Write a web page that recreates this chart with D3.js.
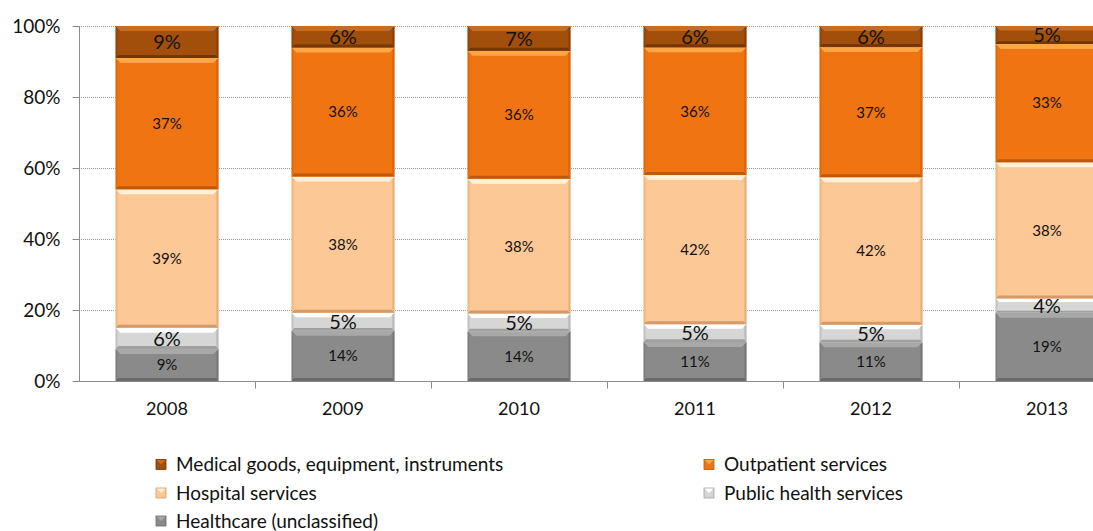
<!DOCTYPE html>
<html><head><meta charset="utf-8">
<script src="https://cdn.jsdelivr.net/npm/d3@7"></script>
<style>body{margin:0;background:#fff}svg{display:block}text{font-family:Lato,"Open Sans",sans-serif}</style>
</head><body><svg id="c" width="1093" height="531"></svg>
<script>
const years = ["2008","2009","2010","2011","2012","2013"];
const seriesNames = ["Healthcare (unclassified)","Public health services","Hospital services","Outpatient services","Medical goods, equipment, instruments"];
const healthcare = [9,14,14,11,11,19];
const publicHealth = [6,5,5,5,5,4];
const hospital = [39,38,38,42,42,38];
const outpatient = [37,36,36,36,37,33];
const medical = [9,6,7,6,6,5];
const yTicks = [0,0.2,0.4,0.6,0.8,1];

const seriesData = [healthcare, publicHealth, hospital, outpatient, medical];
const colors = ["#8a8a8a","#d6d6d6","#fcc896","#f07411","#a24f0b"];
const lights = ["#a8a8a8","#ffffff","#fff0d8","#fca646","#c86c20"];
const darks = ["#6a6a6a","#a0a0a0","#d69a68","#c0580a","#763604"];
const fsizes = [15,20,15,15,20];

const rows = years.map((y,i)=>{const o={year:y};seriesNames.forEach((s,k)=>o[s]=seriesData[k][i]);return o;});
const stack = d3.stack().keys(seriesNames).offset(d3.stackOffsetExpand)(rows);

const svg = d3.select("#c");
const x = d3.scaleBand().domain(years).range([79, 79+176*6]).paddingInner(0.415).paddingOuter(0.2075);
const y = d3.scaleLinear().domain([0,1]).range([381,26]);

// gridlines
svg.append("g").selectAll("line").data(yTicks.slice(1)).join("line")
  .attr("x1",79).attr("x2",1093).attr("y1",d=>y(d)+0.5).attr("y2",d=>y(d)+0.5)
  .attr("stroke","#9a9a9a").attr("stroke-dasharray","1,1");

// bars
const g = svg.append("g");
stack.forEach((layer,k)=>{
  layer.forEach((d,i)=>{
    const x0 = x(years[i]), w = x.bandwidth();
    const yt = y(d[1]), yb = y(d[0]), h = yb-yt;
    const b = Math.min(5, h/4);
    g.append("rect").attr("x",x0).attr("y",yt).attr("width",w).attr("height",h).attr("fill",colors[k]);
    g.append("path").attr("d",`M${x0},${yt}L${x0+w},${yt}L${x0+w-b},${yt+b}L${x0+b},${yt+b}Z`).attr("fill",lights[k]);
    g.append("path").attr("d",`M${x0},${yb}L${x0+w},${yb}L${x0+w-b*0.6},${yb-b*0.6}L${x0+b*0.6},${yb-b*0.6}Z`).attr("fill",darks[k]);
    g.append("path").attr("d",`M${x0+w},${yt}L${x0+w-2},${yt+2}L${x0+w-2},${yb-2}L${x0+w},${yb}Z`).attr("fill",darks[k]).attr("opacity",0.6);
    g.append("path").attr("d",`M${x0},${yt}L${x0+2},${yt+2}L${x0+2},${yb-2}L${x0},${yb}Z`).attr("fill",darks[k]).attr("opacity",0.35);
    g.append("text").attr("x",x0+w/2).attr("y",(yt+yb)/2).attr("dy","0.36em")
      .attr("text-anchor","middle").attr("font-size",fsizes[k]).attr("fill","#111")
      .text(seriesData[k][i]+"%");
  });
});

// y axis
const ya = svg.append("g").attr("transform","translate(79.5,0)")
  .call(d3.axisLeft(y).tickValues(yTicks).tickFormat(d3.format(".0%")).tickSize(7).tickPadding(12));
ya.select(".domain").attr("stroke","#8c8c8c").attr("d","M0,26V381");
ya.selectAll(".tick line").attr("stroke","#8c8c8c");
ya.selectAll("text").attr("font-size",19).attr("fill","#111").attr("font-family","Lato,sans-serif");

// x axis
const xa = svg.append("g").attr("transform","translate(0,381.5)");
xa.append("line").attr("x1",79).attr("x2",1093).attr("stroke","#8c8c8c");
xa.selectAll("line.t").data(d3.range(1,7)).join("line").attr("class","t")
  .attr("x1",i=>79+176*i+0.5).attr("x2",i=>79+176*i+0.5).attr("y1",0).attr("y2",7).attr("stroke","#8c8c8c");
xa.selectAll("text").data(years).join("text")
  .attr("x",d=>x(d)+x.bandwidth()/2).attr("y",33).attr("text-anchor","middle")
  .attr("font-size",18).attr("fill","#111").text(d=>d);

// legend
const legendOrder = [4,3,2,1,0];
const lpos = [[156,464.5],[704,464.5],[156,493],[704,493],[156,521]];
legendOrder.forEach((k,j)=>{
  const [lx,ly] = lpos[j];
  const lg = svg.append("g");
  lg.append("rect").attr("x",lx).attr("y",ly-5).attr("width",10).attr("height",10).attr("fill",colors[k]);
  lg.append("path").attr("d",`M${lx},${ly-5}L${lx+10},${ly-5}L${lx+5},${ly}Z`).attr("fill",lights[k]);
  lg.append("rect").attr("x",lx).attr("y",ly-5).attr("width",10).attr("height",10).attr("fill","none").attr("stroke",darks[k]).attr("stroke-width",0.8);
  lg.append("text").attr("x",lx+20).attr("y",ly).attr("dy","0.36em").attr("font-size",19).attr("fill","#111").text(seriesNames[k]);
});
</script></body></html>
